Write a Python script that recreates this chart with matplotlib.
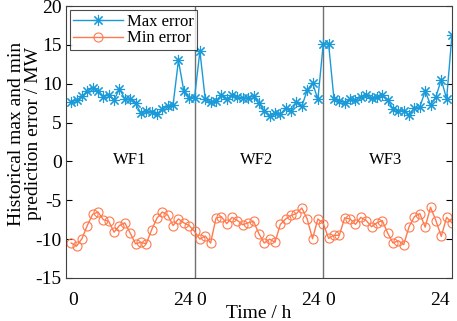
import numpy as np
import matplotlib.pyplot as plt
from matplotlib.transforms import ScaledTranslation

plt.rcParams['font.family'] = ['Liberation Serif', 'DejaVu Serif']
plt.rcParams['axes.unicode_minus'] = False

# hourly points, 3 wind farms x 24 h
hours = np.arange(1, 73)

max_err = [7.7, 7.85, 8.4, 9.05, 9.5, 9.1, 8.3, 8.6, 7.9, 9.35, 8.05, 8.0,
           7.5, 6.2, 6.55, 6.35, 6.1, 6.8, 7.1, 7.3, 13.0, 9.1, 8.2, 8.2,
           14.2, 8.0, 7.65, 7.8, 8.5, 8.05, 8.5, 8.3, 8.15, 8.2, 8.4, 7.5,
           6.55, 5.9, 6.25, 6.05, 6.9, 6.45, 7.65, 7.1, 9.15, 10.1, 8.0, 15.15,
           15.1, 8.05, 7.8, 7.55, 8.05, 7.85, 8.3, 8.5, 8.15, 8.3, 8.5, 7.85,
           6.8, 6.5, 6.55, 6.0, 6.9, 7.0, 9.05, 7.3, 8.3, 10.55, 8.05, 16.3]

min_err = [-10.5, -10.9, -9.95, -8.25, -6.8, -6.5, -7.5, -7.7, -9.1, -8.25, -7.9, -9.2,
           -10.6, -10.4, -10.6, -8.8, -7.3, -6.5, -6.9, -8.25, -7.4, -7.9, -8.25, -9.0,
           -10.0, -9.6, -10.5, -7.3, -7.1, -8.0, -7.2, -7.6, -8.15, -7.9, -7.7, -9.3,
           -10.5, -10.0, -10.4, -8.1, -7.4, -6.95, -6.7, -6.0, -7.4, -9.95, -7.4, -8.0,
           -9.9, -9.5, -9.5, -7.25, -7.4, -8.1, -7.2, -7.6, -8.4, -7.9, -7.6, -9.2,
           -10.5, -10.2, -10.7, -8.4, -7.1, -6.7, -8.45, -5.9, -7.6, -9.65, -7.2, -7.9]

farms = ['WF1', 'WF2', 'WF3']
farm_x = [12, 35.6, 59.6]
day_end = [24, 48, 72]       # "24" labels, right of each day
day_start = [0, 24, 48]      # "0" labels

blue = '#1A9AD8'
orange = '#FF7A4D'

fig = plt.figure(figsize=(4.57, 3.21), dpi=100)
ax = fig.add_axes([0.144, 0.134, 0.845, 0.847])

for xv in day_end[:-1]:
    ax.axvline(xv, color='#707070', lw=1.0, zorder=1)

ax.plot(hours, max_err, color=blue, lw=1.0, marker=(8, 2, 0), ms=8, mew=0.8, label='Max error')
ax.plot(hours, min_err, color=orange, lw=1.0, marker='o', ms=6.5, mfc='none', mew=0.8,
        label='Min error')

for name, xv in zip(farms, farm_x):
    ax.text(xv, 0.2, name, ha='center', va='center', fontsize=12)

ax.set_xlim(0, 72)
ax.set_ylim(-15, 20)
ax.xaxis.remove_overlapping_locs = False
ax.set_xticks(day_end)
ax.set_xticklabels(['24'] * 3, ha='right')
ax.set_xticks(day_start, minor=True)
ax.set_xticklabels(['0'] * 3, minor=True, ha='left')
ax.set_yticks(np.arange(-15, 21, 5))
ax.tick_params(which='both', direction='in', labelsize=14, right=True, top=False)
ax.tick_params(axis='x', which='both', length=0, pad=10)
ax.tick_params(axis='y', length=4, pad=3)

# small gap between "24" and "0"
for lab in ax.get_xticklabels():
    lab.set_transform(lab.get_transform() + ScaledTranslation(-1.5 / 72, 0, fig.dpi_scale_trans))
for lab in ax.get_xticklabels(minor=True):
    lab.set_transform(lab.get_transform() + ScaledTranslation(1.5 / 72, 0, fig.dpi_scale_trans))

for s in ax.spines.values():
    s.set_color('#404040')
    s.set_linewidth(0.8)

ax.set_xlabel('Time / h', fontsize=14, labelpad=-3)
ax.set_ylabel('Historical max and min\nprediction error / MW', fontsize=14,
              linespacing=1.0)
ax.yaxis.set_label_coords(-0.062, 0.53)

leg = ax.legend(loc='upper left', fontsize=12, frameon=True, fancybox=False,
                edgecolor='#202020', borderpad=0.2, labelspacing=0.05, handlelength=3.0,
                handletextpad=0.2, borderaxespad=0.25)
leg.get_frame().set_linewidth(0.8)

fig.savefig('out.png', dpi=100)
